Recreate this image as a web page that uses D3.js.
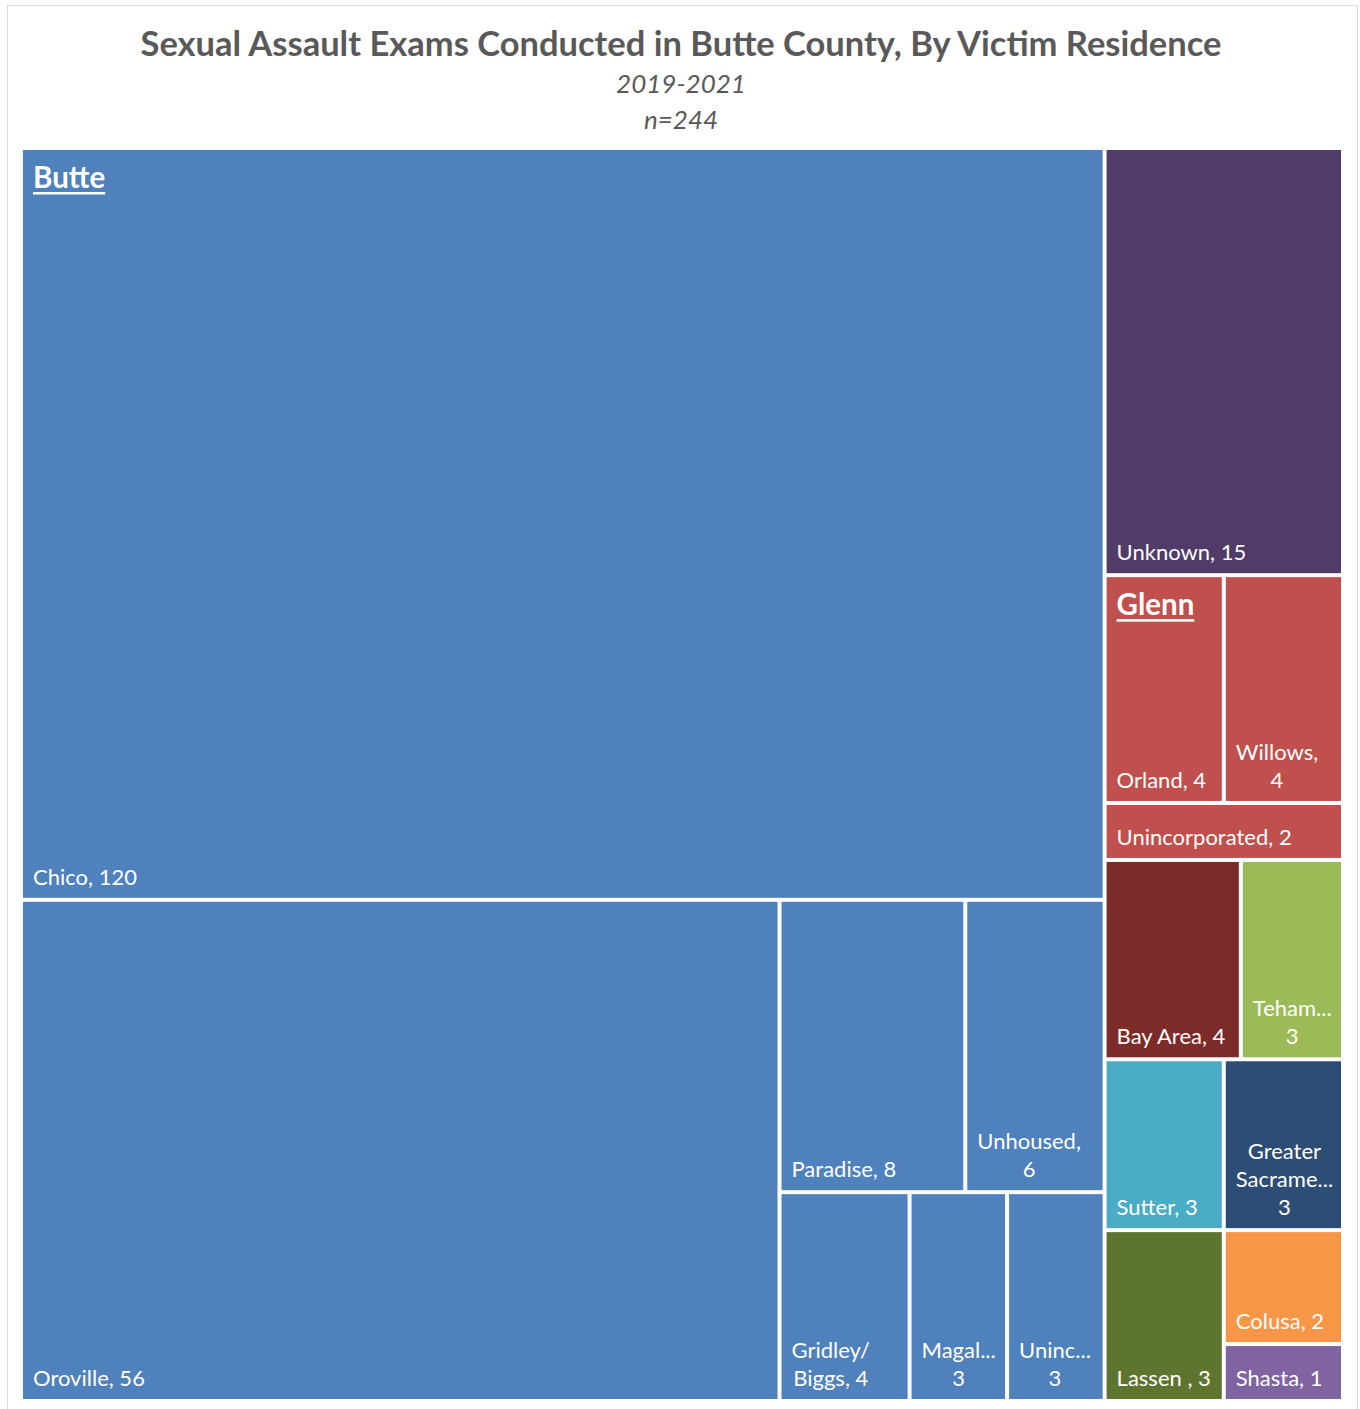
<!DOCTYPE html>
<html>
<head>
<meta charset="utf-8">
<script src="https://cdn.jsdelivr.net/npm/d3@7"></script>
<style>
  body { margin: 0; background: #fff; }
  svg text { font-family: Lato, "Open Sans", sans-serif; }
</style>
</head>
<body>
<script>
// top level categories, in sheet order (ties keep this order)
var groupNames  = ["Butte", "Unknown", "Glenn", "Bay Area", "Tehama", "Sutter", "Greater Sacramento", "Lassen ", "Colusa", "Shasta"];
var groupValues = [null, 15, null, 4, 3, 3, 3, 3, 2, 1];   // null = has sub-areas
var groupColors = ["#4F81BD", "#513C69", "#C0504D", "#7C2B28", "#9BBB59", "#4BACC6", "#2C4D75", "#5E7530", "#F79646", "#8064A2"];

var butteNames  = ["Chico", "Oroville", "Paradise", "Unhoused", "Gridley/Biggs", "Magalia", "Unincorporated"];
var butteValues = [120, 56, 8, 6, 4, 3, 3];

var glennNames  = ["Orland", "Willows", "Unincorporated"];
var glennValues = [4, 4, 2];

var title = "Sexual Assault Exams Conducted in Butte County, By Victim Residence";
var subtitle = ["2019-2021", "n=244"];

var width = 1360, height = 1409;
var plot = {left: 23, top: 150, right: 1341, bottom: 1399};

var svg = d3.select("body").append("svg")
    .attr("width", width)
    .attr("height", height);

svg.append("rect")
    .attr("x", 7.5).attr("y", 5.5)
    .attr("width", 1350).attr("height", 1420)
    .attr("fill", "#fff")
    .attr("stroke", "#d9d9d9");

svg.append("text")
    .attr("x", 681).attr("y", 56)
    .attr("text-anchor", "middle")
    .attr("font-size", "34.5px")
    .attr("font-weight", "bold")
    .attr("fill", "#595959")
    .text(title);

svg.selectAll(".sub")
  .data(subtitle)
  .enter().append("text")
    .attr("class", "sub")
    .attr("x", 681)
    .attr("y", function(d, i) { return 93 + i * 36; })
    .attr("text-anchor", "middle")
    .attr("font-size", "26px")
    .attr("font-style", "italic")
    .attr("fill", "#595959")
    .text(function(d) { return d; });

// build hierarchy
function kids(names, values) {
  return names.map(function(n, i) { return {name: n, value: values[i]}; });
}
var data = {name: "root", children: groupNames.map(function(g, i) {
  var node = {name: g, color: groupColors[i]};
  if (g == "Butte") node.children = kids(butteNames, butteValues);
  else if (g == "Glenn") node.children = kids(glennNames, glennValues);
  else node.value = groupValues[i];
  return node;
})};

var root = d3.hierarchy(data)
    .sum(function(d) { return d.children ? 0 : d.value; })
    .sort(function(a, b) { return b.value - a.value; });

// squarified tiling, Excel flavour: nearly equal leftovers go in one strip along the long side
var ratio = 1.2;
function excelTile(parent, x0, y0, x1, y1) {
  var nodes = parent.children, value = parent.value, n = nodes.length, i0 = 0, i1;
  while (i0 < n) {
    var dx = x1 - x0, dy = y1 - y0;
    var rest = nodes.slice(i0);
    if (rest.length > 1 && rest[0].value / rest[rest.length - 1].value < 1.5) {
      var last = {value: value, children: rest};
      if (dx >= dy) d3.treemapDice(last, x0, y0, x1, y1);
      else d3.treemapSlice(last, x0, y0, x1, y1);
      return;
    }
    i1 = i0;
    var sumValue = nodes[i1++].value, minValue = sumValue, maxValue = sumValue;
    var alpha = Math.max(dy / dx, dx / dy) / (value * ratio);
    var beta = sumValue * sumValue * alpha;
    var minRatio = Math.max(maxValue / beta, beta / minValue);
    for (; i1 < n; ++i1) {
      var v = nodes[i1].value;
      sumValue += v;
      if (v < minValue) minValue = v;
      if (v > maxValue) maxValue = v;
      beta = sumValue * sumValue * alpha;
      var newRatio = Math.max(maxValue / beta, beta / minValue);
      if (newRatio > minRatio) { sumValue -= v; break; }
      minRatio = newRatio;
    }
    var row = {value: sumValue, children: nodes.slice(i0, i1)};
    if (dx < dy) d3.treemapDice(row, x0, y0, x1, y0 += dy * sumValue / value);
    else d3.treemapSlice(row, x0, y0, x0 += dx * sumValue / value, y1);
    value -= sumValue;
    i0 = i1;
  }
}

d3.treemap()
    .tile(excelTile)
    .size([plot.right - plot.left, plot.bottom - plot.top])
    .paddingInner(4)(root);

var g = svg.append("g")
    .attr("transform", "translate(" + plot.left + "," + plot.top + ")");

var leaves = root.leaves();

g.selectAll(".cell")
  .data(leaves)
  .enter().append("rect")
    .attr("class", "cell")
    .attr("x", function(d) { return d.x0; })
    .attr("y", function(d) { return d.y0; })
    .attr("width", function(d) { return d.x1 - d.x0; })
    .attr("height", function(d) { return d.y1 - d.y0; })
    .attr("fill", function(d) { return d.depth == 1 ? d.data.color : d.parent.data.color; });

// text measuring
var fontSize = 22, lineH = 28, pad = 10;
var meas = svg.append("text").attr("font-size", fontSize + "px").attr("visibility", "hidden");
function tw(s) { meas.text(s); return meas.node().getComputedTextLength(); }

// word wrap like the Excel labels: break at spaces and after "/", cut long words with "..."
function wrap(text, w) {
  var joinW = w - 18, wordW = w - 24, cutW = w - 15;
  var tokens = [];
  text.split(" ").forEach(function(word, i) {
    var parts = word.split(/(?<=\/)/);
    parts.forEach(function(p, j) { tokens.push({t: p, sep: (j == 0 && i > 0) ? " " : ""}); });
  });
  var lines = [], line = tokens[0].t, single = [true], one = true;
  for (var i = 1; i < tokens.length; i++) {
    var cand = line + tokens[i].sep + tokens[i].t;
    if (tw(cand) <= joinW) { line = cand; one = false; }
    else { lines.push({t: line, one: one}); line = tokens[i].t; one = true; }
  }
  lines.push({t: line, one: one});
  return lines.map(function(l) {
    if (!l.one || tw(l.t) <= wordW) return l.t;
    var s = l.t;
    while (s.length > 1 && tw(s + "...") > cutW) s = s.slice(0, -1);
    return s + "...";
  });
}

g.selectAll(".label")
  .data(leaves)
  .enter().append("text")
    .attr("class", "label")
    .attr("fill", "#fff")
    .attr("font-size", fontSize + "px")
    .each(function(d) {
      var lines = wrap(d.data.name + ", " + d.data.value, d.x1 - d.x0);
      var blockW = d3.max(lines, tw);
      var el = d3.select(this);
      var multi = lines.length > 1;
      el.attr("text-anchor", multi ? "middle" : "start");
      lines.forEach(function(l, i) {
        el.append("tspan")
          .attr("x", multi ? d.x0 + pad + blockW / 2 : d.x0 + pad)
          .attr("y", d.y1 - 13 - (lines.length - 1 - i) * lineH)
          .text(l);
      });
    });

// parent headers (overlapping)
var parents = root.children.filter(function(d) { return d.children; });
var heads = g.selectAll(".head")
  .data(parents)
  .enter().append("g")
    .attr("class", "head");

heads.append("text")
    .attr("x", function(d) { return d.x0 + pad; })
    .attr("y", function(d) { return d.y0 + 38; })
    .attr("fill", "#fff")
    .attr("font-size", "29.5px")
    .attr("font-weight", "bold")
    .text(function(d) { return d.data.name; })
    .each(function(d) { d.tw = this.getComputedTextLength(); });

heads.append("rect")
    .attr("x", function(d) { return d.x0 + pad; })
    .attr("y", function(d) { return d.y0 + 42; })
    .attr("width", function(d) { return d.tw; })
    .attr("height", 2.5)
    .attr("fill", "#fff");

meas.remove();
</script>
</body>
</html>
